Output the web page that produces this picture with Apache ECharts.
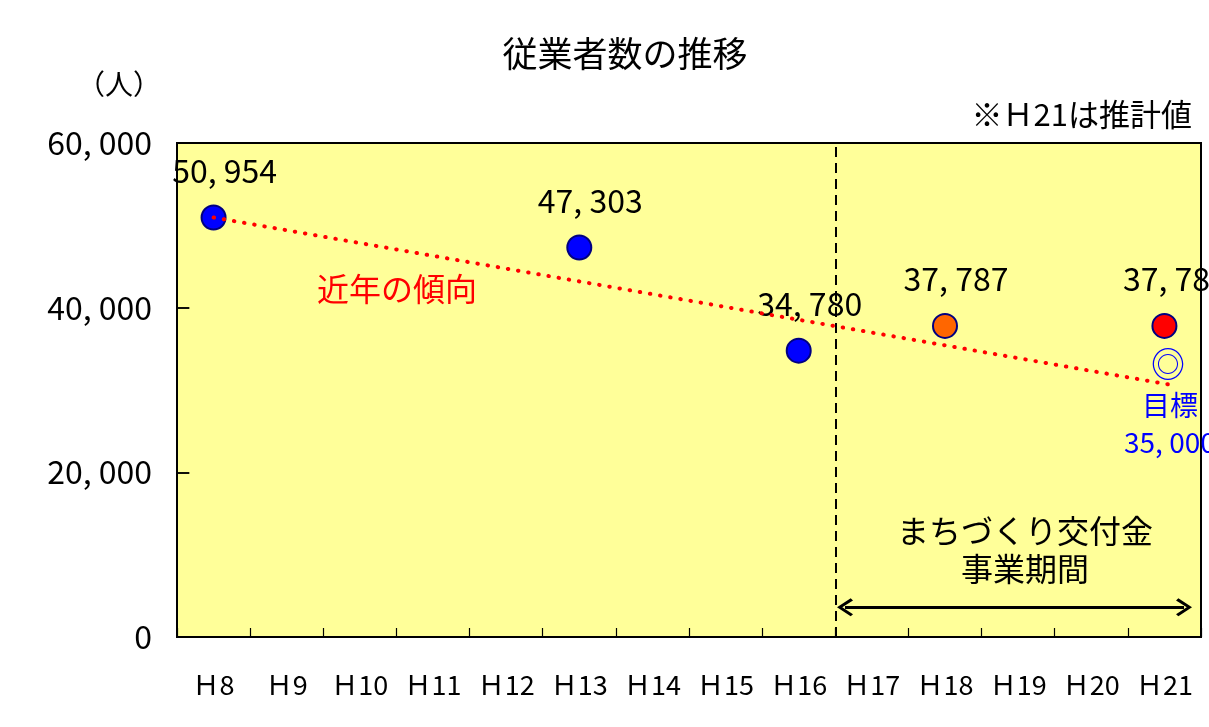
<!DOCTYPE html>
<html>
<head>
    <meta charset="utf-8">
    <title>従業者数の推移</title>
    <script src="https://cdn.jsdelivr.net/npm/echarts@6/dist/echarts.min.js"></script>
    <style>
        body { margin: 0; overflow: hidden; background: linear-gradient(90deg, #1c0a44 0%, #2a1060 40%, #3a1a78 70%, #1c0a44 100%); }
        #main { position: absolute; left: 12px; top: 8px; width: 1197px; height: 719px; background: #fff; }
    </style>
</head>
<body>
<div id="main"></div>
<script>
    // 年度（カテゴリ）
    var years = ['Ｈ8', 'Ｈ9', 'Ｈ10', 'Ｈ11', 'Ｈ12', 'Ｈ13', 'Ｈ14', 'Ｈ15', 'Ｈ16', 'Ｈ17', 'Ｈ18', 'Ｈ19', 'Ｈ20', 'Ｈ21'];
    // 従業者数の実績・推計
    var pointYears = ['Ｈ8', 'Ｈ13', 'Ｈ16', 'Ｈ18', 'Ｈ21'];
    var pointValues = [50954, 47303, 34780, 37787, 37787];
    // 近年の傾向（点線）: 値軸上の位置と値
    var trendX = [0, 13.17];
    var trendY = [50954, 30500];
    // 事業期間の区切りと矢印
    var periodStart = 8.5;
    var arrowX = [8.633, 13.268];
    var arrowY = 3600;
    var yTicks = [0, 20000, 40000, 60000];

    var font = "'Noto Sans CJK JP', sans-serif";
    var pointColors = ['#0000FF', '#0000FF', '#0000FF', '#FF6600', '#FF0000'];
    var chevron = 'path://M10,0 L20,13 L17.6,15.2 L10,5 L2.4,15.2 L0,13 Z';

    function fmt(v) {
        return String(v).replace(/\B(?=(\d{3})+(?!\d))/g, ', ');
    }

    var myChart = echarts.init(document.getElementById('main'));

    // y軸の内向き目盛り（値軸の左端から短い線）
    var yTickMarks = yTicks.slice(1, -1).map(function (v) {
        return [
            { coord: [-0.5, v], symbol: 'none', lineStyle: { color: '#000', width: 1.5, type: 'solid' } },
            { coord: [-0.5 + 0.17, v], symbol: 'none' }
        ];
    });

    var option = {
        animation: false,
        title: {
            text: '従業者数の推移',
            left: 608,
            top: 23,
            textAlign: 'center',
            textStyle: { fontFamily: font, fontSize: 35, fontWeight: 'normal', color: '#000' }
        },
        grid: {
            left: 165, top: 135, width: 1024, height: 494,
            show: true, backgroundColor: '#FFFF99', borderColor: '#000', borderWidth: 2
        },
        xAxis: [{
            type: 'category',
            data: years,
            boundaryGap: true,
            axisLine: { lineStyle: { color: '#000', width: 2 } },
            axisTick: { show: true, inside: true, length: 9, lineStyle: { color: '#000', width: 1.2 } },
            axisLabel: { margin: 34, fontFamily: font, fontSize: 27, color: '#000', interval: 0 }
        }, {
            type: 'value',
            min: -0.5,
            max: 13.5,
            show: false
        }],
        yAxis: [{
            type: 'value',
            min: yTicks[0],
            max: yTicks[yTicks.length - 1],
            interval: 20000,
            splitLine: { show: false },
            axisLine: { show: true, onZero: false, lineStyle: { color: '#000', width: 2 } },
            axisTick: { show: true, inside: true, length: 12, lineStyle: { color: '#000', width: 1.5 } },
            axisLabel: { margin: 25, fontFamily: font, fontSize: 32, color: '#000', formatter: fmt }
        }],
        graphic: [
            { type: 'text', x: 107, y: 76, style: { text: '（人）', font: '28px ' + font, fill: '#000', textAlign: 'center', textVerticalAlign: 'middle' } },
            { type: 'text', x: 1180, y: 106, style: { text: '※Ｈ21は推計値', font: '31px ' + font, fill: '#000', textAlign: 'right', textVerticalAlign: 'middle' } },
            { type: 'text', x: 385, y: 281, z: 10, style: { text: '近年の傾向', font: '32px ' + font, fill: '#FF0000', textAlign: 'center', textVerticalAlign: 'middle' } },
            { type: 'text', x: 1013, y: 523, z: 10, style: { text: 'まちづくり交付金', font: '32px ' + font, fill: '#000', textAlign: 'center', textVerticalAlign: 'middle' } },
            { type: 'text', x: 1013, y: 561, z: 10, style: { text: '事業期間', font: '32px ' + font, fill: '#000', textAlign: 'center', textVerticalAlign: 'middle' } },
            { type: 'text', x: 1156, y: 356, z: 10, style: { text: '◎', font: '34px ' + font, fill: '#0000FF', textAlign: 'center', textVerticalAlign: 'middle' } },
            { type: 'text', x: 1158, y: 397, z: 10, style: { text: '目標', font: '28px ' + font, fill: '#0000FF', textAlign: 'center', textVerticalAlign: 'middle' } },
            { type: 'text', x: 1112, y: 434, z: 10, style: { text: fmt(35000), font: '28px ' + font, fill: '#0000FF', textAlign: 'left', textVerticalAlign: 'middle' } }
        ],
        series: [{
            name: '従業者数',
            type: 'scatter',
            xAxisIndex: 0,
            symbolSize: 24,
            z: 3,
            data: pointYears.map(function (y, i) {
                return {
                    value: [y, pointValues[i]],
                    itemStyle: { color: pointColors[i], borderColor: '#000080', borderWidth: 2, opacity: 1 }
                };
            }),
            itemStyle: { opacity: 1 },
            label: {
                show: true,
                position: 'top',
                distance: 18,
                offset: [11, 0],
                fontFamily: font,
                fontSize: 32,
                color: '#000',
                formatter: function (p) { return fmt(p.value[1]); }
            }
        }, {
            name: '近年の傾向',
            type: 'line',
            xAxisIndex: 1,
            z: 5,
            symbol: 'none',
            data: trendX.map(function (x, i) { return [x, trendY[i]]; }),
            lineStyle: { color: '#FF0000', width: 4, type: [0.5, 9.8], cap: 'round' },
            markLine: {
                silent: true,
                label: { show: false },
                data: [
                    {
                        xAxis: periodStart,
                        symbol: 'none',
                        lineStyle: { color: '#000', width: 2, type: [10, 6] }
                    },
                    [
                        { coord: [arrowX[0], arrowY], symbol: chevron, symbolSize: [18, 16] },
                        { coord: [arrowX[1], arrowY], symbol: chevron, symbolSize: [18, 16] }
                    ]
                ].concat(yTickMarks),
                lineStyle: { color: '#000', width: 3, type: 'solid' },
                itemStyle: { color: '#000' },
                symbol: ['none', 'none']
            }
        }]
    };

    myChart.setOption(option);
</script>
</body>
</html>
